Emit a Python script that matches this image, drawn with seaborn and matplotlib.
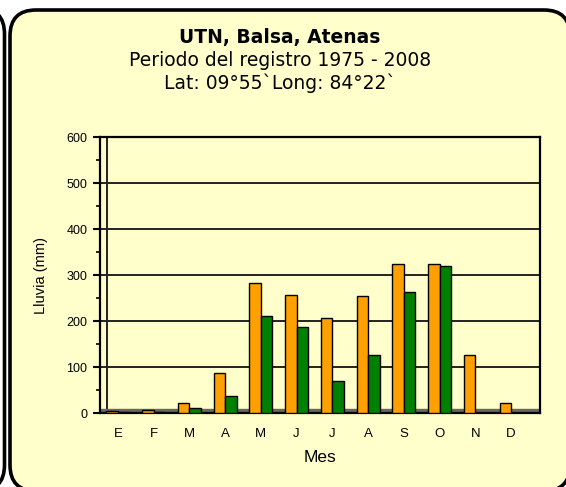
import pandas as pd
import matplotlib
matplotlib.use('Agg')
import matplotlib.pyplot as plt
import seaborn as sns
from matplotlib.patches import FancyBboxPatch
from matplotlib.ticker import MultipleLocator


# Monthly rainfall (mm)
MESES = ['E', 'F', 'M', 'A', 'M', 'J', 'J', 'A', 'S', 'O', 'N', 'D']
SERIE_A = [5, 6, 21, 87, 282, 257, 206, 255, 324, 324, 127, 21]
SERIE_B = [2, 2, 11, 36, 210, 186, 70, 126, 262, 320, 0, 0]
SERIES = ['A', 'B']

BG = '#FFFFCC'

# Build long table for seaborn (month index keeps duplicate letters apart)
rows = []
for i in range(len(MESES)):
    rows.append({'pos': i, 'serie': SERIES[0], 'mm': SERIE_A[i]})
    rows.append({'pos': i, 'serie': SERIES[1], 'mm': SERIE_B[i]})
df = pd.DataFrame(rows)

sns.set_style('white')
plt.rcParams['font.family'] = ['Liberation Sans', 'DejaVu Sans']
plt.rcParams['text.color'] = 'black'
plt.rcParams['axes.labelcolor'] = 'black'
plt.rcParams['xtick.color'] = 'black'
plt.rcParams['ytick.color'] = 'black'

fig = plt.figure(figsize=(5.66, 4.87), dpi=100)
fig.patch.set_facecolor('white')

# rounded panel frame (inches, 1 in = 100 px)
frame = FancyBboxPatch((0.10, -0.04), 5.60, 4.81,
                       boxstyle='round,pad=0,rounding_size=0.26',
                       transform=fig.dpi_scale_trans, facecolor=BG,
                       edgecolor='black', linewidth=2.6, zorder=-5)
fig.patches.append(frame)
# edge of the neighbouring panel on the left
left_frame = FancyBboxPatch((-1.0, -0.04), 1.045, 4.83,
                            boxstyle='round,pad=0,rounding_size=0.26',
                            transform=fig.dpi_scale_trans, facecolor='white',
                            edgecolor='black', linewidth=2.6, zorder=-5)
fig.patches.append(left_frame)

ax = fig.add_axes([100 / 566, 1 - 413 / 487, 440 / 566, 276 / 487])
ax.set_facecolor(BG)

sns.barplot(data=df, x='pos', y='mm', hue='serie',
            palette=['#FFA000', '#008000'], saturation=1, width=0.64,
            edgecolor='black', linewidth=1.0, ax=ax, legend=False, zorder=3)

ax.set_ylim(0, 600)
ax.set_xlim(-0.5, len(MESES) - 0.5 + 0.31)
ax.yaxis.set_major_locator(MultipleLocator(100))
ax.yaxis.set_minor_locator(MultipleLocator(50))
ax.grid(axis='y', which='major', color='#222222', linewidth=1.4, zorder=0)
ax.set_axisbelow(True)

# pseudo 3D: inner wall line and dark floor
ax.axvline(-0.3, color='#222222', linewidth=1.4, zorder=1)
ax.axhspan(0, 8, xmin=0, xmax=1, color='#666666', zorder=1)

ax.set_xticks(range(len(MESES)))
ax.set_xticklabels(MESES)
ax.set_xticks([i - 0.5 for i in range(len(MESES) + 1)], minor=True)
ax.tick_params(axis='x', which='major', length=0, pad=11, labelsize=9.5)
ax.tick_params(axis='x', which='minor', length=4, width=1.5, direction='out')
ax.tick_params(axis='y', which='major', length=5, width=1.5, direction='out',
               labelsize=9, left=True, pad=4)
ax.tick_params(axis='y', which='minor', length=3, width=1.2, direction='out',
               left=True)

for side in ['top', 'right', 'left', 'bottom']:
    ax.spines[side].set_color('black')
    ax.spines[side].set_linewidth(1.6)

ax.set_xlabel('Mes', fontsize=12.5, labelpad=7)
ax.set_ylabel('Lluvia (mm)', fontsize=10.5, labelpad=13)

fig.text(280 / 566, 1 - 38 / 487, 'UTN, Balsa, Atenas', ha='center', va='center',
         fontsize=13.5, fontweight='bold', family='DejaVu Sans')
fig.text(280 / 566, 1 - 61 / 487, 'Periodo del registro 1975 - 2008', ha='center',
         va='center', fontsize=13.5, family='DejaVu Sans')
fig.text(280 / 566, 1 - 83 / 487, 'Lat: 09°55`Long: 84°22`', ha='center',
         va='center', fontsize=13.5, family='DejaVu Sans')

fig.savefig('out.png', dpi=100, facecolor=fig.get_facecolor())
